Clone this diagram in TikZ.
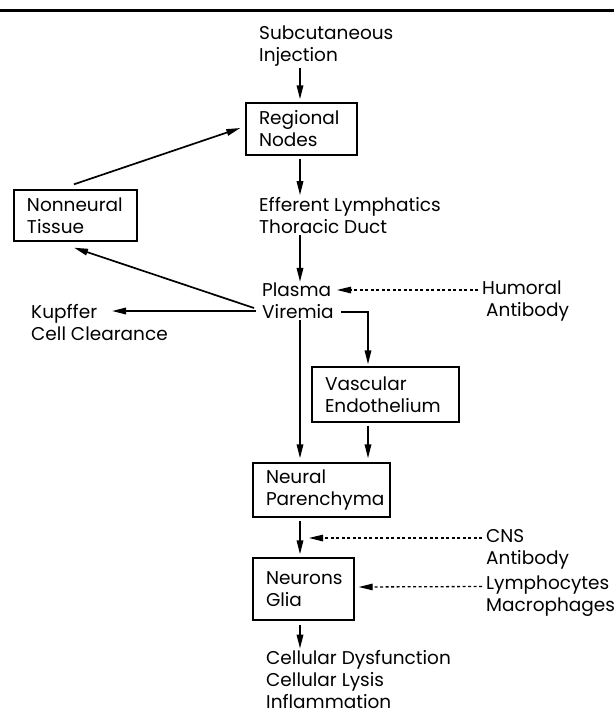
\documentclass[tikz,border=0pt]{standalone}
\usepackage{fontspec}
\setmainfont{Poppins}
\usetikzlibrary{arrows.meta,calc}
\begin{document}
\begin{tikzpicture}[x=1pt,y=-1pt,
  lbl/.style={anchor=west,align=left,inner sep=0pt,font=\fontsize{18.5}{22}\selectfont},
  boxnode/.style={draw,line width=1.4pt,inner sep=0pt,align=left,font=\fontsize{18.5}{22}\selectfont},
  arr/.style={line width=1.7pt,-{Triangle[length=14pt,width=6.5pt]}},
  darr/.style={line width=1.3pt,dash pattern=on 3pt off 2.5pt,-{Triangle[length=14pt,width=6.5pt]}}]
\useasboundingbox (0,0) rectangle (614,716);
\fill (0,8.5) rectangle (614,11.5);
% text labels
\node[lbl] (subq) at (259,46) {Subcutaneous\\Injection};
\node[lbl] (eff) at (259,215.5) {Efferent Lymphatics\\Thoracic Duct};
\node[lbl] (pv) at (262,301) {Plasma\\Viremia};
\node[lbl] (hum) at (482,301) {Humoral\\\hspace*{4pt}Antibody};
\node[lbl] (kup) at (31,323) {Kupffer\\Cell Clearance};
\node[lbl] (cns) at (486,549) {CNS\\Antibody};
\node[lbl] (lym) at (486,596.5) {Lymphocytes\\Macrophages};
\node[lbl] (cell) at (266,680) {Cellular Dysfunction\\Cellular Lysis\\Inflammation};
% boxes
\node[boxnode,minimum width=111pt,minimum height=52pt,text width=85pt] (reg) at (301.5,129) {Regional\\Nodes};
\node[boxnode,minimum width=123pt,minimum height=51pt,text width=97pt] (non) at (75.5,215.5) {Nonneural\\Tissue};
\node[boxnode,minimum width=147pt,minimum height=55pt,text width=121pt] (vas) at (385.5,394.5) {Vascular\\Endothelium};
\node[boxnode,minimum width=137pt,minimum height=54pt,text width=111pt] (neu) at (321.5,490) {Neural\\Parenchyma};
\node[boxnode,minimum width=101pt,minimum height=62pt,text width=75pt] (ng) at (303.5,589) {Neurons\\Glia};
% helper coordinates
\coordinate (mx) at (300,0);
\coordinate (vx) at (368,0);
% connectors
\draw[arr] ([yshift=-2pt]subq.south -| mx) -- ([yshift=3pt]reg.north -| mx);
\draw[arr] ([yshift=-3pt]reg.south -| mx) -- ([yshift=2pt]eff.north -| mx);
\draw[arr] ([yshift=-1pt]eff.south -| mx) -- ([yshift=1pt]pv.north -| mx);
\draw[darr] ($(hum.west)+(-4,-11)$) -- ($(pv.west)+(75,-11)$);
\draw[arr] ($(pv.west)+(-6,10)$) -- ($(kup.west)+(81,-12)$);
\draw[arr] ($(pv.west)+(-8,7)$) -- ($(non.south)+(-1.5,6)$);
\draw[arr] ($(non.north)+(-1.5,-5)$) -- ($(reg.west)+(-5,-1)$);
\draw[arr] ($(pv.west)+(79,11)$) -| ($(vas.north -| vx)+(0,-2)$);
\draw[arr] ([yshift=-1pt]pv.south -| mx) -- ([yshift=4pt]neu.north -| mx);
\draw[arr] ([yshift=-3pt]vas.south -| vx) -- ([yshift=4pt]neu.north -| vx);
\draw[arr] ([yshift=-3pt]neu.south -| mx) -- ([yshift=3pt]ng.north -| mx);
\draw[darr] ($(cns.west)+(-4,-11)$) -- ($(cns.west -| mx)+(9,-11)$);
\draw[darr] ($(lym.west)+(-4,-10)$) -- ($(ng.east)+(4,-2)$);
\draw[arr] ([yshift=-4pt]ng.south -| mx) -- ([yshift=2pt]cell.north -| mx);
\end{tikzpicture}
\end{document}
